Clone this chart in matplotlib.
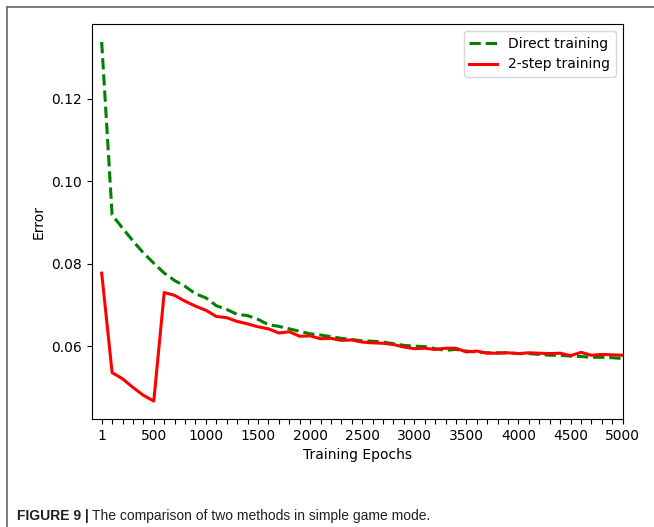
import matplotlib
matplotlib.use('Agg')
import matplotlib.pyplot as plt
from matplotlib.lines import Line2D

# === Data ===
epochs = [1] + list(range(100, 5001, 100))
epoch_labels = ['1', '500', '1000', '1500', '2000', '2500',
                '3000', '3500', '4000', '4500', '5000']

direct_training = [
    0.1337, 0.0918, 0.0886, 0.0855, 0.0826, 0.0801, 0.0777, 0.0759, 0.0745, 0.0727,
    0.0717, 0.0698, 0.0689, 0.0677, 0.0674, 0.0665, 0.0652, 0.0648, 0.0642, 0.0636,
    0.0630, 0.0627, 0.0623, 0.0619, 0.0616, 0.0613, 0.0612, 0.0610, 0.0606, 0.0602,
    0.0600, 0.0599, 0.0594, 0.0590, 0.0592, 0.0588, 0.0586, 0.0584, 0.0584, 0.0584,
    0.0582, 0.0582, 0.0580, 0.0578, 0.0578, 0.0576, 0.0575, 0.0573, 0.0573, 0.0572,
    0.0570,
]

two_step_training = [
    0.0777, 0.0536, 0.0521, 0.0500, 0.0481, 0.0467, 0.0730, 0.0723, 0.0709, 0.0697,
    0.0687, 0.0672, 0.0669, 0.0660, 0.0654, 0.0647, 0.0642, 0.0632, 0.0635, 0.0624,
    0.0625, 0.0618, 0.0619, 0.0614, 0.0615, 0.0610, 0.0608, 0.0607, 0.0604, 0.0598,
    0.0594, 0.0595, 0.0592, 0.0595, 0.0595, 0.0586, 0.0588, 0.0583, 0.0583, 0.0584,
    0.0582, 0.0584, 0.0583, 0.0582, 0.0583, 0.0577, 0.0585, 0.0578, 0.0580, 0.0579,
    0.0578,
]

caption_bold = 'FIGURE 9 |'
caption_text = 'The comparison of two methods in simple game mode.'

# === Figure ===
fig = plt.figure(figsize=(6.54, 5.27), dpi=100)
ax = fig.add_axes([0.1402, 0.2049, 0.8119, 0.7495])

idx = list(range(len(epochs)))
ax.plot(idx, direct_training, color='green', linestyle='--', linewidth=2.2,
        label='Direct training')
ax.plot(idx, two_step_training, color='red', linestyle='-', linewidth=2.2,
        label='2-step training')

ax.set_xlim(-0.96, len(epochs) - 1)
ax.set_xticks(idx)
ax.set_xticklabels([epoch_labels[i // 5] if i % 5 == 0 else '' for i in idx])
ax.set_yticks([0.06, 0.08, 0.10, 0.12])
ax.tick_params(labelsize=10)
ax.set_xlabel('Training Epochs', fontsize=10)
ax.set_ylabel('Error', fontsize=10)
ax.legend(loc='upper right', fontsize=10)

# === Outer frame and caption ===
fig.add_artist(Line2D([6.5 / 654, 1.0], [1 - 6.5 / 527, 1 - 6.5 / 527],
                      transform=fig.transFigure, color='#666666', linewidth=1.2))
fig.add_artist(Line2D([6.5 / 654, 6.5 / 654], [0.0, 1 - 6.5 / 527],
                      transform=fig.transFigure, color='#666666', linewidth=1.2))

t1 = fig.text(17 / 654, 1 - 520 / 527, caption_bold, fontsize=10, fontweight='bold',
              family='Liberation Sans', color='#231f20', va='baseline')
fig.canvas.draw()
bb = t1.get_window_extent()
fig.text((bb.x1 + 3) / 654, 1 - 520 / 527, caption_text,
         fontsize=10, family='Liberation Sans', color='#231f20', va='baseline')

fig.savefig('out.png', dpi=100)
